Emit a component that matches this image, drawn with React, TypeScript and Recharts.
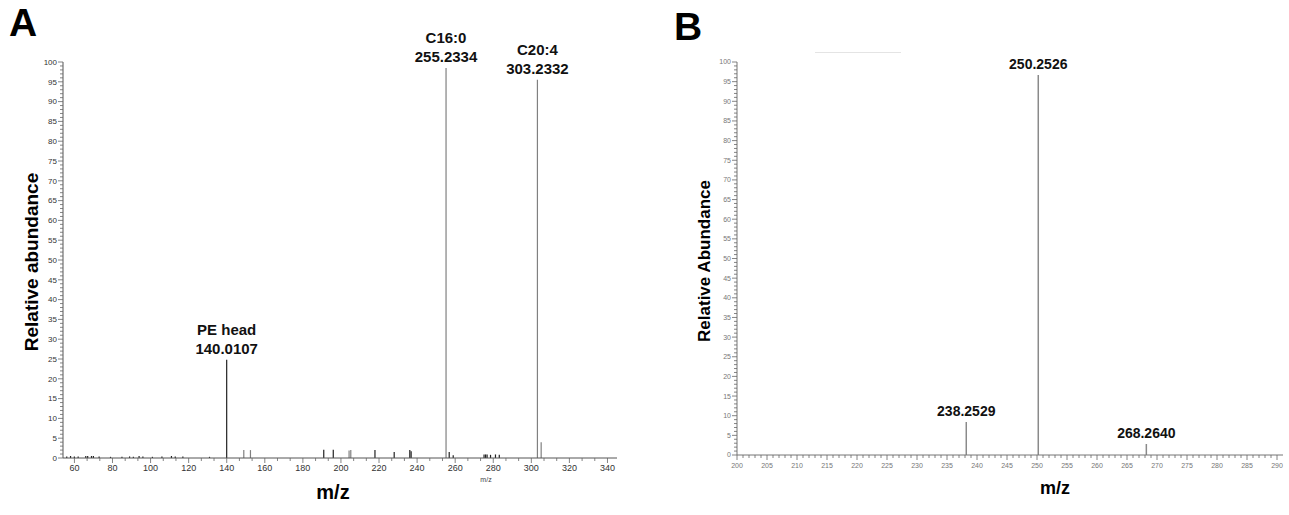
import React from 'react';
import { BarChart, Bar, XAxis, YAxis, Cell, LabelList } from 'recharts';

// Panel A: MS/MS spectrum of PE (m/z, relative abundance)
const mzA = [
  56, 58, 60, 62, 66, 67, 69, 70, 73, 79, 85, 89, 91, 94, 96, 101, 106, 111, 113, 117, 131,
  140.0107, 149.0, 152.5, 191.0, 196.0, 204.3, 205.2, 217.9, 228.0, 236.2, 236.9,
  255.2334, 256.9, 259.0, 275.2, 276.0, 276.8, 278.6, 281.2, 283.2, 303.2332, 305.2,
];
const abA = [
  0.4, 0.5, 0.4, 0.4, 0.5, 0.5, 0.5, 0.5, 0.4, 0.3, 0.3, 0.4, 0.3, 0.5, 0.4, 0.3, 0.4, 0.5, 0.4, 0.4, 0.3,
  24.8, 2.0, 2.0, 2.1, 2.1, 1.9, 2.0, 2.0, 1.5, 2.0, 1.7,
  98.5, 1.5, 0.7, 0.9, 0.9, 0.9, 0.8, 0.9, 0.8, 95.5, 4.0,
];
const greyA = [149.0, 152.5, 204.3, 205.2, 255.2334, 303.2332, 305.2];
const annMzA = [140.0107, 255.2334, 303.2332];
const annTextA = [['PE head', '140.0107'], ['C16:0', '255.2334'], ['C20:4', '303.2332']];

// Panel B
const mzB = [238.2529, 250.2526, 268.264];
const abB = [8.4, 96.7, 2.8];
const annMzB = [238.2529, 250.2526, 268.264];
const annTextB = [['238.2529'], ['250.2526'], ['268.2640']];

const FONT = '"Liberation Sans", Arial, Helvetica, sans-serif';

const build = (mz: number[], ab: number[], annMz: number[], annText: string[][]) =>
  mz.map((m, i) => {
    const k = annMz.indexOf(m);
    return { mz: m, ab: ab[i], lines: k >= 0 ? annText[k] : null };
  });

const dataA = build(mzA, abA, annMzA, annTextA);
const dataB = build(mzB, abB, annMzB, annTextB);

const yTicks = Array.from({ length: 101 }, (_, i) => i);
const xTicksA: number[] = [];
for (let k = 0; 60 + (k * 20) / 3 <= 345; k++) xTicksA.push(60 + (k * 20) / 3);
const xTicksB = Array.from({ length: 91 }, (_, i) => 200 + i);

const isMult = (v: number, s: number) => Math.abs(v / s - Math.round(v / s)) < 1e-6;

const makeYTick = (fs: number, color: string) => (props: any) => {
  const { x, y, payload } = props;
  const v = payload.value;
  const major = v % 5 === 0;
  return (
    <g>
      <line x1={x} x2={x - (major ? 5 : 3)} y1={y} y2={y} stroke="#666" strokeWidth={0.8} />
      {major && (
        <text x={x - 6} y={y + fs * 0.35} textAnchor="end" fontSize={fs} fill={color} fontFamily={FONT}>
          {v}
        </text>
      )}
    </g>
  );
};

const makeXTick = (fs: number, color: string, step: number, gap: number) => (props: any) => {
  const { x, y, payload } = props;
  const v = payload.value;
  const major = isMult(v, step);
  return (
    <g>
      <line x1={x} x2={x} y1={y} y2={y + (major ? 5 : 3)} stroke="#666" strokeWidth={0.8} />
      {major && (
        <text x={x} y={y + gap + fs} textAnchor="middle" fontSize={fs} fill={color} fontFamily={FONT}>
          {Math.round(v)}
        </text>
      )}
    </g>
  );
};

const makeLabel = (data: any[], fs: number, lh: number) => (props: any) => {
  const { x, y, width, index } = props;
  const d = data[index];
  if (!d || !d.lines) return null;
  const n = d.lines.length;
  return (
    <text x={x + width / 2} textAnchor="middle" fontSize={fs} fontWeight="bold" fill="#111" fontFamily={FONT}>
      {d.lines.map((t: string, k: number) => (
        <tspan key={k} x={x + width / 2} y={y - 6 - (n - 1 - k) * lh}>
          {t}
        </tspan>
      ))}
    </text>
  );
};

const abs = (s: React.CSSProperties): React.CSSProperties => ({ position: 'absolute', fontFamily: FONT, ...s });

export default function App() {
  return (
    <div style={{ position: 'absolute', left: 0, top: 0, width: 1289, height: 515, background: '#fff', overflow: 'hidden' }}>
      <div style={abs({ left: 0, top: 0 })}>
        <BarChart width={640} height={515} data={dataA} margin={{ top: 62, right: 23, left: 0, bottom: 0 }}>
          <XAxis
            type="number"
            dataKey="mz"
            domain={[54, 345]}
            allowDataOverflow
            ticks={xTicksA}
            interval={0}
            tickSize={0}
            tickMargin={0}
            height={57}
            axisLine={{ stroke: '#555' }}
            tickLine={false}
            tick={makeXTick(9, '#333', 20, 4)}
          />
          <YAxis
            domain={[0, 100]}
            allowDataOverflow
            ticks={yTicks}
            interval={0}
            tickSize={0}
            tickMargin={0}
            width={63}
            axisLine={{ stroke: '#555' }}
            tickLine={false}
            tick={makeYTick(8, '#333')}
          />
          <Bar dataKey="ab" barSize={1.2} isAnimationActive={false}>
            {dataA.map((d, i) => (
              <Cell key={i} fill={greyA.includes(d.mz) ? '#808080' : '#222'} />
            ))}
            <LabelList dataKey="ab" content={makeLabel(dataA, 15, 19)} />
          </Bar>
        </BarChart>
      </div>

      <div style={abs({ left: 640, top: 0 })}>
        <BarChart width={649} height={515} data={dataB} margin={{ top: 62, right: 6, left: 0, bottom: 0 }}>
          <XAxis
            type="number"
            dataKey="mz"
            domain={[200, 291]}
            allowDataOverflow
            ticks={xTicksB}
            interval={0}
            tickSize={0}
            tickMargin={0}
            height={60}
            axisLine={{ stroke: '#777' }}
            tickLine={false}
            tick={makeXTick(7, '#777', 5, 6)}
          />
          <YAxis
            domain={[0, 100]}
            allowDataOverflow
            ticks={yTicks}
            interval={0}
            tickSize={0}
            tickMargin={0}
            width={97}
            axisLine={{ stroke: '#777' }}
            tickLine={false}
            tick={makeYTick(7, '#777')}
          />
          <Bar dataKey="ab" barSize={1.5} fill="#8a8a8a" isAnimationActive={false}>
            <LabelList dataKey="ab" content={makeLabel(dataB, 14, 18)} />
          </Bar>
        </BarChart>
      </div>

      {/* faint cropped header strip above panel B */}
      <div style={{ position: 'absolute', left: 815, top: 52, width: 86, height: 1, background: '#e4e4e4' }} />

      <div style={abs({ left: 9, top: 3, fontSize: 39, lineHeight: 1, fontWeight: 'bold' })}>A</div>
      <div style={abs({ left: 674, top: 7, fontSize: 39, lineHeight: 1, fontWeight: 'bold' })}>B</div>

      <div
        style={abs({
          left: 32,
          top: 262,
          fontSize: 19,
          fontWeight: 'bold',
          whiteSpace: 'nowrap',
          transform: 'translate(-50%, -50%) rotate(-90deg)',
        })}
      >
        Relative abundance
      </div>
      <div
        style={abs({
          left: 705,
          top: 261,
          fontSize: 17,
          fontWeight: 'bold',
          whiteSpace: 'nowrap',
          transform: 'translate(-50%, -50%) rotate(-90deg)',
        })}
      >
        Relative Abundance
      </div>

      <div style={abs({ left: 333, top: 492, fontSize: 20, fontWeight: 'bold', transform: 'translate(-50%, -50%)' })}>m/z</div>
      <div style={abs({ left: 1055, top: 488, fontSize: 18, fontWeight: 'bold', transform: 'translate(-50%, -50%)' })}>m/z</div>
      <div style={abs({ left: 486, top: 479, fontSize: 7, lineHeight: 1, color: '#444', transform: 'translate(-50%, -50%)' })}>m/z</div>
    </div>
  );
}
